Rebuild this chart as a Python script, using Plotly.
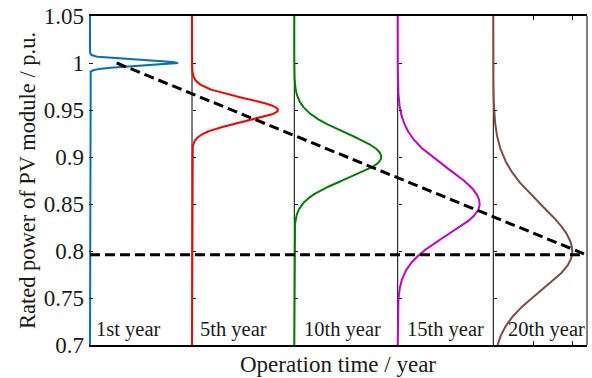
import numpy as np
import plotly.graph_objects as go

# ---------------- data ----------------
year_labels = ["1st year", "5th year", "10th year", "15th year", "20th year"]
baselines = [0.0, 1.02, 2.043, 3.077, 4.033]       # panel offsets on the x axis
peak_width = [0.87, 0.86, 0.87, 0.82, 0.79]        # horizontal extent of each density peak
means = [1.000, 0.950, 0.900, 0.850, 0.799]        # rated power means (p.u.)
sigma_up = [0.0030, 0.0125, 0.025, 0.038, 0.050]   # spread above the mean
sigma_dn = [0.0030, 0.0125, 0.023, 0.033, 0.041]   # spread below the mean
trend_x = [0.267, 4.94]
trend_y = [1.000, 0.797]
limit_x = [0.0, 4.94]
limit_y = [0.796, 0.796]
ytick_vals = [0.7, 0.75, 0.8, 0.85, 0.9, 0.95, 1.0, 1.05]
ytick_text = ["0.7", "0.75", "0.8", "0.85", "0.9", "0.95", "1", "1.05"]
xtick_vals = [4.43, 4.82]

# ---------------- style ----------------
colors = ["#0072BD", "#FF0000", "#008000", "#C800C8", "#7E4B46"]
label_offset = [0.04, 0.06, 0.08, 0.07, 0.13]
FONT = "Liberation Serif, Times New Roman, serif"
TXT = "#1a1a1a"
X_RANGE = [-0.01, 4.97]
Y_RANGE = [0.7, 1.05]

fig = go.Figure()

y_grid = np.linspace(Y_RANGE[0], Y_RANGE[1], 3501)

# invisible anchors for the per-panel inner tick axes
for i, b in enumerate(baselines[1:], start=2):
    fig.add_trace(go.Scatter(x=[b, b], y=Y_RANGE, mode="lines",
                             line=dict(color="rgba(0,0,0,0)", width=0),
                             yaxis=f"y{i}", hoverinfo="skip", showlegend=False))

# black baselines for each panel
for b in baselines[1:]:
    fig.add_trace(go.Scatter(x=[b, b], y=Y_RANGE, mode="lines",
                             line=dict(color="black", width=1),
                             hoverinfo="skip", showlegend=False))

# density curves
for i in range(len(means)):
    s = np.where(y_grid >= means[i], sigma_up[i], sigma_dn[i])
    dens = np.exp(-0.5 * ((y_grid - means[i]) / s) ** 2)
    fig.add_trace(go.Scatter(x=baselines[i] + peak_width[i] * dens, y=y_grid,
                             mode="lines", line=dict(color=colors[i], width=2),
                             hoverinfo="skip", showlegend=False))

# dashed lines
fig.add_trace(go.Scatter(x=trend_x, y=trend_y, mode="lines",
                         line=dict(color="black", width=3, dash="10px,5px"),
                         showlegend=False))
fig.add_trace(go.Scatter(x=limit_x, y=limit_y, mode="lines",
                         line=dict(color="black", width=3, dash="10px,5px"),
                         showlegend=False))

# year labels
for i, lab in enumerate(year_labels):
    fig.add_annotation(x=baselines[i] + label_offset[i], y=0.717, text=lab,
                       showarrow=False, xanchor="left", yanchor="middle",
                       font=dict(family=FONT, size=20.5, color=TXT))

layout_extra = {}
for i, b in enumerate(baselines[1:], start=2):
    frac = (b - X_RANGE[0]) / (X_RANGE[1] - X_RANGE[0])
    layout_extra[f"yaxis{i}"] = dict(overlaying="y", anchor="free", position=frac,
                                     side="left", range=Y_RANGE, showline=False,
                                     showgrid=False, zeroline=False, ticks="inside",
                                     ticklen=3, tickcolor=TXT, tickvals=ytick_vals,
                                     showticklabels=False)

fig.update_layout(
    width=592, height=378,
    margin=dict(l=89, r=5, t=16, b=33),
    paper_bgcolor="white", plot_bgcolor="white",
    font=dict(family=FONT, color=TXT),
    xaxis=dict(range=X_RANGE, showgrid=False, zeroline=False,
               showline=True, linecolor="black", linewidth=2, mirror="ticks",
               ticks="inside", ticklen=4, tickcolor=TXT, tickvals=xtick_vals,
               showticklabels=False,
               title=dict(text="Operation time / year", standoff=10,
                          font=dict(family=FONT, size=23, color=TXT))),
    yaxis=dict(range=Y_RANGE, showgrid=False, zeroline=False, showline=False,
               ticks="inside", ticklen=4, tickcolor=TXT,
               tickvals=ytick_vals, ticktext=ytick_text,
               tickfont=dict(family=FONT, size=23, color=TXT),
               ticklabelstandoff=4,
               title=dict(text="Rated power of PV module / p.u.", standoff=1,
                          font=dict(family=FONT, size=22.5, color=TXT))),
    shapes=[dict(type="line", xref="paper", yref="paper", x0=1, x1=1, y0=0, y1=1,
                 line=dict(color="black", width=1))],
    **layout_extra,
)

fig.write_html("out.html", config={"displayModeBar": False},
               post_script="document.body.style.margin='0';")
